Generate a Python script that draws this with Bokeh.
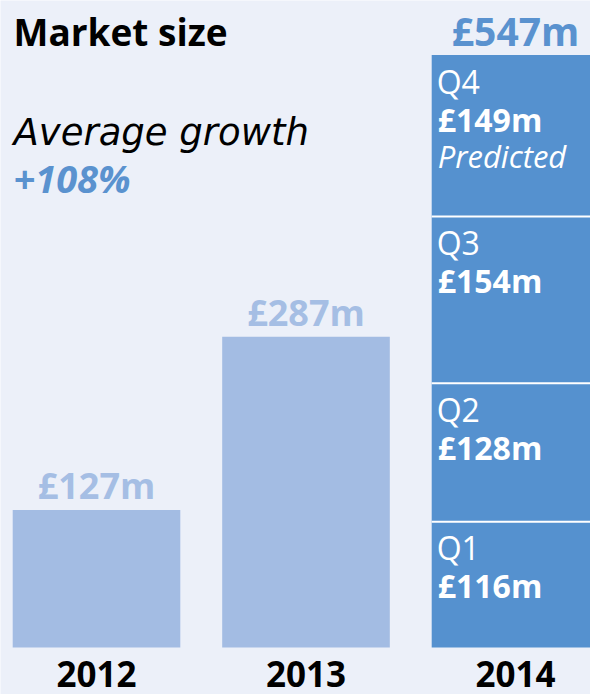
from bokeh.plotting import figure
from bokeh.models import ColumnDataSource, Range1d, Label
from bokeh.core.properties import value
from bokeh.embed import file_html
from bokeh.resources import INLINE

# ---- data ----
years = ["2012", "2013", "2014"]
past_totals = [127, 287]
past_labels = ["£127m", "£287m"]
quarters = ["Q1", "Q2", "Q3", "Q4"]
q_values = [116, 128, 154, 149]
q_labels = ["£116m", "£128m", "£154m", "£149m"]
total_2014 = 547
total_2014_label = "£547m"
title = "Market size"
growth_text = "Average growth"
growth_value = "+108%"
predicted_note = "Predicted"

BG = "#ECF0F9"
LIGHT = "#A3BCE3"
DARK = "#5591CF"
LIGHT_TXT = "#A5BEE4"
BLUE_TXT = "#5A92CF"
FONT_NAME = "Open Sans"
FONT = value(FONT_NAME)
DY = -12  # baseline compensation (px)

W, H = 590, 694
x0 = -96 / 209.5
p = figure(width=W, height=H, output_backend="svg", toolbar_location=None,
           x_range=Range1d(x0, x0 + W / 209.5),
           y_range=Range1d(-(H - 647) / 1.083, 647 / 1.083),
           min_border=0, min_border_left=0, min_border_right=0,
           min_border_top=0, min_border_bottom=0)
p.axis.visible = False
p.grid.visible = False
p.outline_line_color = None
p.background_fill_color = BG
p.border_fill_color = BG

# past years
src_past = ColumnDataSource(dict(x=[0, 1], top=past_totals, lab=past_labels))
p.vbar(x="x", top="top", bottom=0, width=0.8, source=src_past,
       fill_color=LIGHT, line_color=None)
p.text(x="x", y="top", text="lab", source=src_past, text_align="center",
       text_baseline="alphabetic", y_offset=-12 + DY, text_color=LIGHT_TXT,
       text_font=FONT, text_font_size="36px", text_font_style="bold")

# 2014 stacked
bottoms, tops = [], []
acc = 0
for v in q_values:
    bottoms.append(acc)
    acc += v
    tops.append(acc)
src_q = ColumnDataSource(dict(x=[2] * 4, bottom=bottoms, top=tops,
                              q=quarters, lab=q_labels, left=[1.6] * 4))
p.vbar(x="x", top="top", bottom="bottom", width=0.8, source=src_q,
       fill_color=DARK, line_color=None)
p.segment(x0=[1.6] * 3, x1=[2.5] * 3, y0=tops[:-1], y1=tops[:-1],
          line_color="white", line_width=2)
p.text(x="left", y="top", text="q", source=src_q, x_offset=5, y_offset=38 + DY,
       text_baseline="alphabetic", text_color="white", text_font=FONT,
       text_font_size="32px")
p.text(x="left", y="top", text="lab", source=src_q, x_offset=6, y_offset=76 + DY,
       text_baseline="alphabetic", text_color="white", text_font=FONT,
       text_font_size="32px", text_font_style="bold")
p.text(x=[1.6], y=[tops[-1]], text=[predicted_note], x_offset=6, y_offset=113 + DY,
       text_baseline="alphabetic", text_color="white", text_font=FONT,
       text_font_size="31px", text_font_style="italic")
p.text(x=[2.4], y=[total_2014], text=[total_2014_label], x_offset=-20, y_offset=-13 + DY,
       text_align="right", text_baseline="alphabetic", text_color=BLUE_TXT,
       text_font=FONT, text_font_size="39px", text_font_style="bold")

# year labels
p.text(x=[0, 1, 2], y=[0, 0, 0], text=years, y_offset=38 + DY, text_align="center",
       text_baseline="alphabetic", text_color="black", text_font=FONT,
       text_font_size="35px", text_font_style="bold")

# headline texts
p.add_layout(Label(x=13, y=H - 43 - DY, x_units="screen", y_units="screen", text=title,
                   text_font=FONT_NAME, text_font_size="37px", text_font_style="bold",
                   text_color="black", text_baseline="alphabetic"))
p.add_layout(Label(x=13, y=H - 144 - DY, x_units="screen", y_units="screen", text=growth_text,
                   text_font="DejaVu Sans", text_font_size="37px", text_font_style="italic",
                   text_color="black", text_baseline="alphabetic"))
p.add_layout(Label(x=13, y=H - 189 - DY, x_units="screen", y_units="screen", text=growth_value,
                   text_font=FONT_NAME, text_font_size="38px", text_font_style="bold italic",
                   text_color=BLUE_TXT, text_baseline="alphabetic"))

open("out.html", "w").write(file_html(p, INLINE))
